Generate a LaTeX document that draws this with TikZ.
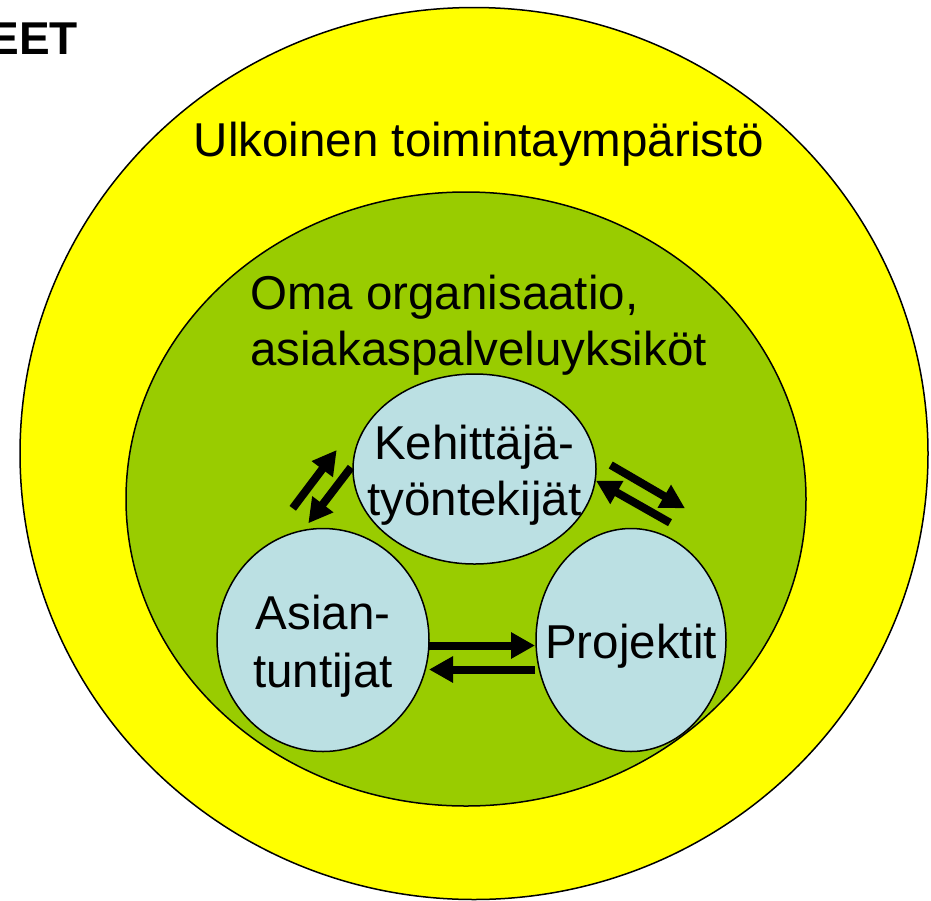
\documentclass[tikz,border=0pt]{standalone}
\usepackage{fontspec}
\setmainfont{Liberation Sans}
\usetikzlibrary{shapes.geometric,arrows.meta}
\definecolor{ylw}{HTML}{FFFF00}
\definecolor{grn}{HTML}{99CC00}
\definecolor{lblue}{HTML}{BBE0E3}
\begin{document}
\begin{tikzpicture}[x=1pt,y=-1pt,
  big/.style={font=\fontsize{47.5}{56}\selectfont, inner sep=0pt},
  zone/.style={ellipse, draw=black, line width=1.5pt, inner sep=0pt},
  inner/.style={zone, fill=lblue},
  flow/.style={line width=8pt, -{Triangle[length=24pt,width=25pt]}}]
\useasboundingbox (0,0) rectangle (931,900);
\node[zone, fill=ylw, minimum width=908pt, minimum height=892pt] (outer) at (474,453.5) {};
\node[zone, fill=grn, minimum width=680pt, minimum height=614pt] (org) at (466,499) {};
\node[inner, minimum width=243pt, minimum height=190pt] (keh) at (474.5,469) {};
\node[inner, minimum width=212pt, minimum height=223pt] (asi) at (323,640) {};
\node[inner, minimum width=190pt, minimum height=223pt] (pro) at (631,640) {};
\node[big, anchor=base, yshift=10pt] (kehA) at (keh) {Kehittäjä-};
\node[big, anchor=base, yshift=-46pt] (kehB) at (keh) {työntekijät};
\node[big, anchor=base, yshift=11pt] (asiA) at (asi) {Asian-};
\node[big, anchor=base, yshift=-47pt] (asiB) at (asi) {tuntijat};
\node[big, anchor=base, yshift=-18pt] (proA) at (pro) {Projektit};
\node[big, anchor=base] (ulk) at (479,156) {Ulkoinen toimintaympäristö};
\node[big, anchor=base west] (oma1) at (250,309) {Oma organisaatio,};
\node[big, anchor=base west] (oma2) at (250,365) {asiakaspalveluyksiköt};
\node[font=\fontsize{46}{50}\selectfont\bfseries, anchor=base east, inner sep=0pt] (eet) at (78,54) {EET};
\coordinate (a1s) at (292.7,508.3); \coordinate (a1e) at (336.7,450);
\coordinate (a2s) at (351,467.3);   \coordinate (a2e) at (308.3,523.3);
\coordinate (a3s) at (610.7,465);   \coordinate (a3e) at (685,508.3);
\coordinate (a4s) at (670,522.7);   \coordinate (a4e) at (596,480.7);
\coordinate (a5s) at (428,645.5);   \coordinate (a5e) at (535,645.5);
\coordinate (a6s) at (535,669.5);   \coordinate (a6e) at (429,669.5);
\draw[flow] (a1s) -- (a1e);
\draw[flow] (a2s) -- (a2e);
\draw[flow] (a3s) -- (a3e);
\draw[flow] (a4s) -- (a4e);
\draw[flow] (a5s) -- (a5e);
\draw[flow] (a6s) -- (a6e);
\end{tikzpicture}
\end{document}
